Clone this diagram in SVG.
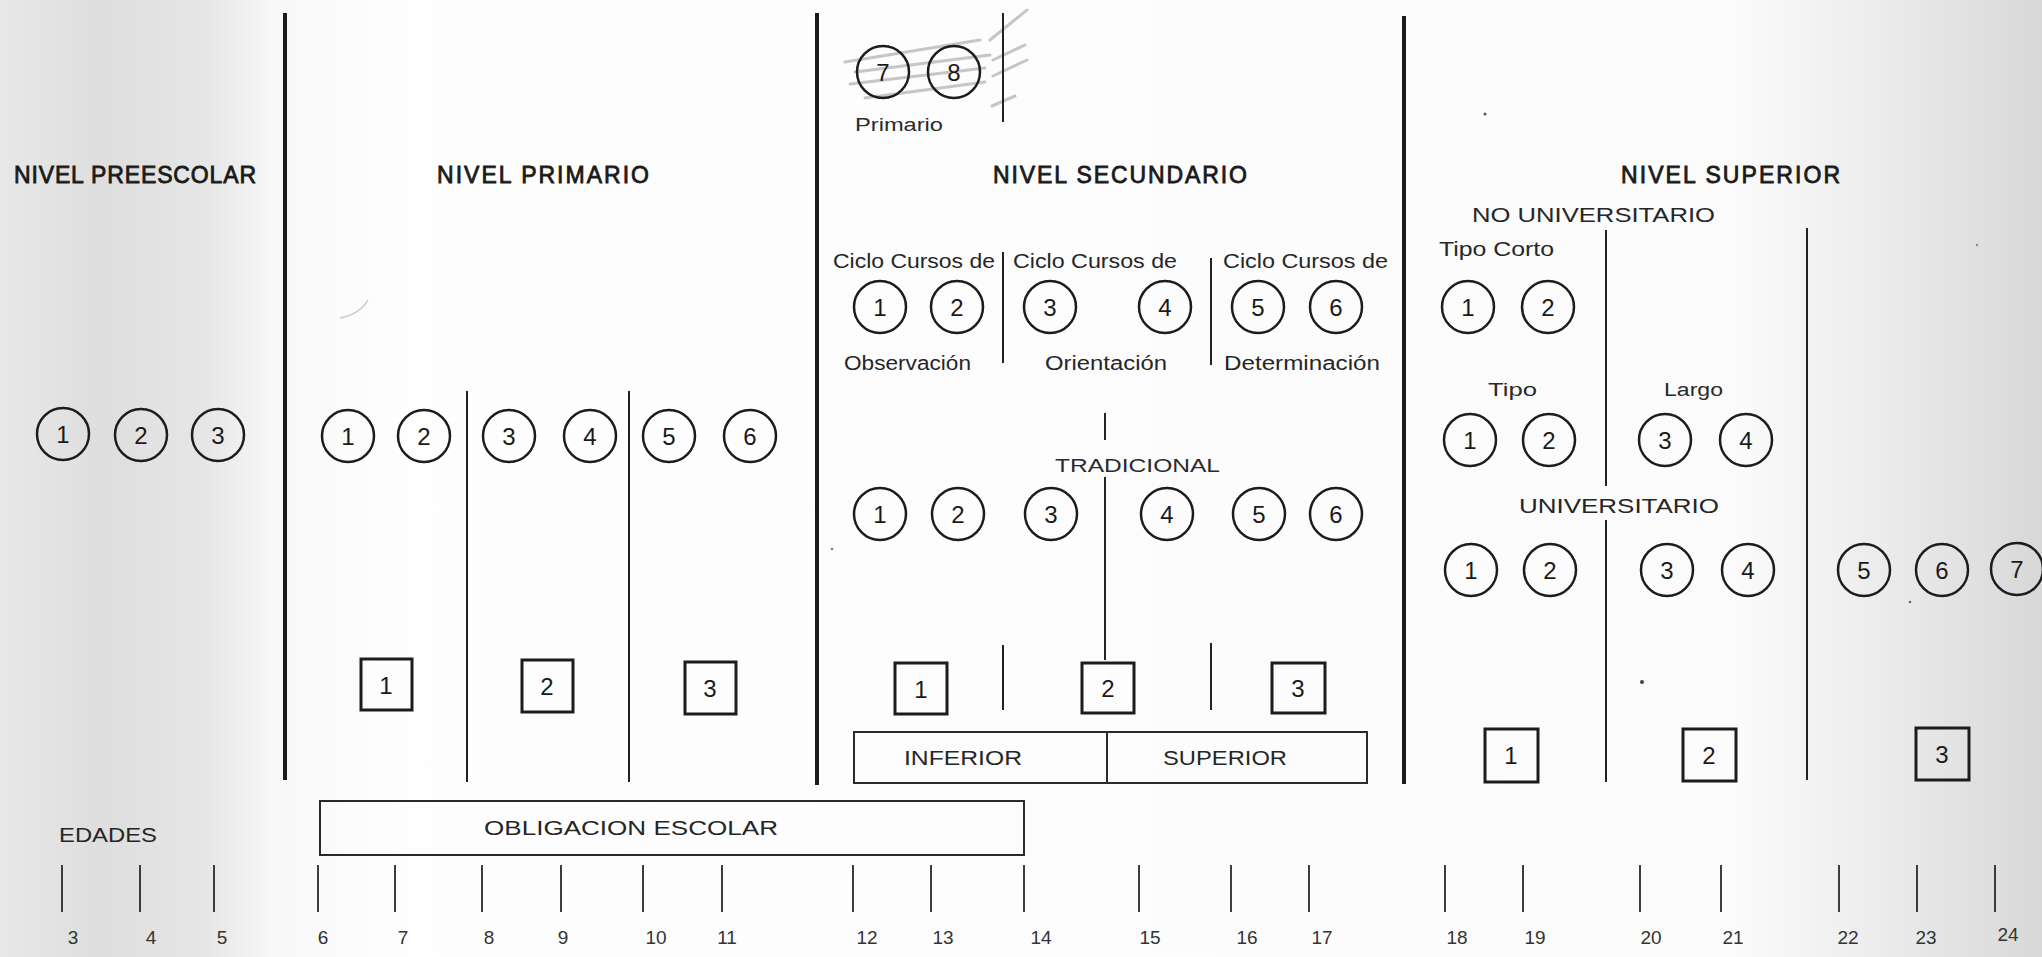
<svg xmlns="http://www.w3.org/2000/svg" width="2042" height="957" viewBox="0 0 2042 957">
<style>
.hd{font-family:"Liberation Sans",Arial,sans-serif;font-size:23px;fill:#1a1a1a;stroke:#1a1a1a;stroke-width:0.8}
.lb{font-family:"Liberation Sans",Arial,sans-serif;font-size:20px;fill:#262626}
.sm{font-family:"Liberation Sans",Arial,sans-serif;font-size:18px;fill:#2a2a2a}
.num{font-family:"Liberation Sans",Arial,sans-serif;font-size:24px;fill:#1a1a1a;text-anchor:middle}
.age{font-family:"Liberation Sans",Arial,sans-serif;font-size:19px;fill:#333;text-anchor:middle}
.c{fill:none;stroke:#1c1c1c;stroke-width:2.5}
.sq{fill:none;stroke:#1c1c1c;stroke-width:3}
.thick{stroke:#1a1a1a;stroke-width:4;fill:none}
.thin{stroke:#222;stroke-width:2;fill:none}
.tick{stroke:#2a2a2a;stroke-width:1.8;fill:none}
.box{fill:none;stroke:#2a2a2a;stroke-width:2}
.scr{stroke:#c6c6c6;stroke-width:3;fill:none;stroke-linecap:round}
</style>
<defs>
<linearGradient id="bg" x1="0" y1="0" x2="1" y2="0">
<stop offset="0" stop-color="#e8e8e8"/>
<stop offset="0.05" stop-color="#dedede"/>
<stop offset="0.1" stop-color="#e6e6e6"/>
<stop offset="0.135" stop-color="#f8f8f8"/>
<stop offset="0.2" stop-color="#fefefe"/>
<stop offset="0.85" stop-color="#fbfbfb"/>
<stop offset="0.92" stop-color="#ececec"/>
<stop offset="1" stop-color="#d8d8d8"/>
</linearGradient>
</defs>
<rect x="0" y="0" width="2042" height="957" fill="url(#bg)"/>

<g id="scribbles">
<path class="scr" d="M845 62 L980 40 M855 72 L990 55 M850 84 L985 68 M865 98 L985 82 M990 40 L1027 10 M993 60 L1025 45 M993 76 L1027 60 M992 106 L1015 96"/>
<path d="M340 318 Q360 314 368 300" stroke="#c8c8c8" stroke-width="1.5" fill="none"/>
<circle cx="1485" cy="114" r="1.5" fill="#555"/>
<circle cx="1642" cy="682" r="2" fill="#444"/>
<circle cx="1910" cy="602" r="1.3" fill="#666"/>
<circle cx="832" cy="549" r="1.2" fill="#777"/>
<circle cx="1977" cy="245" r="1.2" fill="#888"/>
</g>

<g id="connectors">
<line class="thick" x1="285" y1="13" x2="285" y2="780"/>
<line class="thick" x1="817" y1="13" x2="817" y2="785"/>
<line class="thick" x1="1404" y1="16" x2="1404" y2="784"/>
<line class="thin" x1="467" y1="391" x2="467" y2="782"/>
<line class="thin" x1="629" y1="391" x2="629" y2="782"/>
<line class="thin" x1="1003" y1="13" x2="1003" y2="122"/>
<line class="thin" x1="1003" y1="252" x2="1003" y2="363" stroke-width="1.6"/>
<line class="thin" x1="1211" y1="258" x2="1211" y2="365" stroke-width="1.6"/>
<line class="thin" x1="1105" y1="413" x2="1105" y2="440" stroke-width="2.5"/>
<line class="thin" x1="1105" y1="477" x2="1105" y2="660" stroke-width="2.5"/>
<line class="thin" x1="1003" y1="645" x2="1003" y2="710"/>
<line class="thin" x1="1211" y1="643" x2="1211" y2="710"/>
<line class="thin" x1="1606" y1="230" x2="1606" y2="486" stroke-width="2.5"/>
<line class="thin" x1="1606" y1="520" x2="1606" y2="782" stroke-width="2.5"/>
<line class="thin" x1="1807" y1="228" x2="1807" y2="780" stroke-width="2.5"/>
</g>

<g id="headings">
<text class="hd" x="14" y="183" font-size="21.5" textLength="242" lengthAdjust="spacing">NIVEL PREESCOLAR</text>
<text class="hd" x="437" y="183" textLength="212" lengthAdjust="spacing">NIVEL  PRIMARIO</text>
<text class="hd" x="993" y="183" textLength="254" lengthAdjust="spacing">NIVEL  SECUNDARIO</text>
<text class="hd" x="1621" y="183" textLength="219" lengthAdjust="spacing">NIVEL  SUPERIOR</text>
</g>

<g id="preescolar">
<circle class="c" cx="63" cy="434" r="26"/><text class="num" x="63" y="443">1</text>
<circle class="c" cx="141" cy="435" r="26"/><text class="num" x="141" y="444">2</text>
<circle class="c" cx="218" cy="435" r="26"/><text class="num" x="218" y="444">3</text>
</g>

<g id="primario">
<circle class="c" cx="348" cy="436" r="26"/><text class="num" x="348" y="445">1</text>
<circle class="c" cx="424" cy="436" r="26"/><text class="num" x="424" y="445">2</text>
<circle class="c" cx="509" cy="436" r="26"/><text class="num" x="509" y="445">3</text>
<circle class="c" cx="590" cy="436" r="26"/><text class="num" x="590" y="445">4</text>
<circle class="c" cx="669" cy="436" r="26"/><text class="num" x="669" y="445">5</text>
<circle class="c" cx="750" cy="436" r="26"/><text class="num" x="750" y="445">6</text>
<rect class="sq" x="361" y="659" width="51" height="51"/><text class="num" x="386" y="694">1</text>
<rect class="sq" x="522" y="660" width="51" height="52"/><text class="num" x="547" y="695">2</text>
<rect class="sq" x="685" y="662" width="51" height="52"/><text class="num" x="710" y="697">3</text>
</g>

<g id="secundario">
<circle class="c" cx="883" cy="72" r="26"/><text class="num" x="883" y="81">7</text>
<circle class="c" cx="954" cy="72" r="26"/><text class="num" x="954" y="81">8</text>
<text class="sm" x="855" y="131" textLength="88" lengthAdjust="spacingAndGlyphs">Primario</text>
<text class="lb" x="833" y="268" textLength="162" lengthAdjust="spacingAndGlyphs">Ciclo Cursos de</text>
<text class="lb" x="1013" y="268" textLength="164" lengthAdjust="spacingAndGlyphs">Ciclo Cursos de</text>
<text class="lb" x="1223" y="268" textLength="165" lengthAdjust="spacingAndGlyphs">Ciclo Cursos de</text>
<circle class="c" cx="880" cy="307" r="26"/><text class="num" x="880" y="316">1</text>
<circle class="c" cx="957" cy="307" r="26"/><text class="num" x="957" y="316">2</text>
<circle class="c" cx="1050" cy="307" r="26"/><text class="num" x="1050" y="316">3</text>
<circle class="c" cx="1165" cy="307" r="26"/><text class="num" x="1165" y="316">4</text>
<circle class="c" cx="1258" cy="307" r="26"/><text class="num" x="1258" y="316">5</text>
<circle class="c" cx="1336" cy="307" r="26"/><text class="num" x="1336" y="316">6</text>
<text class="lb" x="844" y="370" textLength="127" lengthAdjust="spacingAndGlyphs">Observación</text>
<text class="lb" x="1045" y="370" textLength="122" lengthAdjust="spacingAndGlyphs">Orientación</text>
<text class="lb" x="1224" y="370" textLength="156" lengthAdjust="spacingAndGlyphs">Determinación</text>
<text class="sm" x="1055" y="472" textLength="165" lengthAdjust="spacingAndGlyphs">TRADICIONAL</text>
<circle class="c" cx="880" cy="514" r="26"/><text class="num" x="880" y="523">1</text>
<circle class="c" cx="958" cy="514" r="26"/><text class="num" x="958" y="523">2</text>
<circle class="c" cx="1051" cy="514" r="26"/><text class="num" x="1051" y="523">3</text>
<circle class="c" cx="1167" cy="514" r="26"/><text class="num" x="1167" y="523">4</text>
<circle class="c" cx="1259" cy="514" r="26"/><text class="num" x="1259" y="523">5</text>
<circle class="c" cx="1336" cy="514" r="26"/><text class="num" x="1336" y="523">6</text>
<rect class="sq" x="895" y="663" width="52" height="51"/><text class="num" x="921" y="698">1</text>
<rect class="sq" x="1082" y="663" width="52" height="50"/><text class="num" x="1108" y="697">2</text>
<rect class="sq" x="1272" y="663" width="53" height="50"/><text class="num" x="1298" y="697">3</text>
<rect class="box" x="854" y="732" width="513" height="51"/>
<line class="box" x1="1107" y1="732" x2="1107" y2="783"/>
<text class="lb" x="904" y="765" textLength="118" lengthAdjust="spacingAndGlyphs">INFERIOR</text>
<text class="lb" x="1163" y="765" textLength="124" lengthAdjust="spacingAndGlyphs">SUPERIOR</text>
</g>

<g id="superior">
<text class="lb" x="1472" y="222" textLength="243" lengthAdjust="spacingAndGlyphs">NO UNIVERSITARIO</text>
<text class="lb" x="1439" y="256" textLength="115" lengthAdjust="spacingAndGlyphs">Tipo Corto</text>
<circle class="c" cx="1468" cy="307" r="26"/><text class="num" x="1468" y="316">1</text>
<circle class="c" cx="1548" cy="307" r="26"/><text class="num" x="1548" y="316">2</text>
<text class="sm" x="1488" y="396" textLength="49" lengthAdjust="spacingAndGlyphs">Tipo</text>
<text class="sm" x="1664" y="396" textLength="59" lengthAdjust="spacingAndGlyphs">Largo</text>
<circle class="c" cx="1470" cy="440" r="26"/><text class="num" x="1470" y="449">1</text>
<circle class="c" cx="1549" cy="440" r="26"/><text class="num" x="1549" y="449">2</text>
<circle class="c" cx="1665" cy="440" r="26"/><text class="num" x="1665" y="449">3</text>
<circle class="c" cx="1746" cy="440" r="26"/><text class="num" x="1746" y="449">4</text>
<text class="lb" x="1519" y="513" textLength="200" lengthAdjust="spacingAndGlyphs">UNIVERSITARIO</text>
<circle class="c" cx="1471" cy="570" r="26"/><text class="num" x="1471" y="579">1</text>
<circle class="c" cx="1550" cy="570" r="26"/><text class="num" x="1550" y="579">2</text>
<circle class="c" cx="1667" cy="570" r="26"/><text class="num" x="1667" y="579">3</text>
<circle class="c" cx="1748" cy="570" r="26"/><text class="num" x="1748" y="579">4</text>
<circle class="c" cx="1864" cy="570" r="26"/><text class="num" x="1864" y="579">5</text>
<circle class="c" cx="1942" cy="570" r="26"/><text class="num" x="1942" y="579">6</text>
<circle class="c" cx="2017" cy="569" r="26"/><text class="num" x="2017" y="578">7</text>
<rect class="sq" x="1485" y="729" width="53" height="53"/><text class="num" x="1511" y="764">1</text>
<rect class="sq" x="1683" y="729" width="53" height="52"/><text class="num" x="1709" y="764">2</text>
<rect class="sq" x="1916" y="728" width="53" height="52"/><text class="num" x="1942" y="763">3</text>
</g>

<g id="edades">
<text class="lb" x="59" y="842" textLength="98" lengthAdjust="spacingAndGlyphs" fill="#444">EDADES</text>
<rect class="box" x="320" y="801" width="704" height="54"/>
<text class="lb" x="484" y="835" textLength="294" lengthAdjust="spacingAndGlyphs">OBLIGACION  ESCOLAR</text>
<path class="tick" d="M62 865V912M140 865V912M214 865V912M318 865V912M395 865V912M482 865V912M561 865V912M643 865V912M722 865V912M853 865V912M931 865V912M1024 865V912M1139 865V912M1231 865V912M1309 865V912M1445 865V912M1523 865V912M1640 865V912M1721 865V912M1839 865V912M1917 865V912M1995 865V912"/>
<text class="age" x="73" y="944">3</text>
<text class="age" x="151" y="944">4</text>
<text class="age" x="222" y="944">5</text>
<text class="age" x="323" y="944">6</text>
<text class="age" x="403" y="944">7</text>
<text class="age" x="489" y="944">8</text>
<text class="age" x="563" y="944">9</text>
<text class="age" x="656" y="944">10</text>
<text class="age" x="727" y="944">11</text>
<text class="age" x="867" y="944">12</text>
<text class="age" x="943" y="944">13</text>
<text class="age" x="1041" y="944">14</text>
<text class="age" x="1150" y="944">15</text>
<text class="age" x="1247" y="944">16</text>
<text class="age" x="1322" y="944">17</text>
<text class="age" x="1457" y="944">18</text>
<text class="age" x="1535" y="944">19</text>
<text class="age" x="1651" y="944">20</text>
<text class="age" x="1733" y="944">21</text>
<text class="age" x="1848" y="944">22</text>
<text class="age" x="1926" y="944">23</text>
<text class="age" x="2008" y="941">24</text>
</g>
</svg>
